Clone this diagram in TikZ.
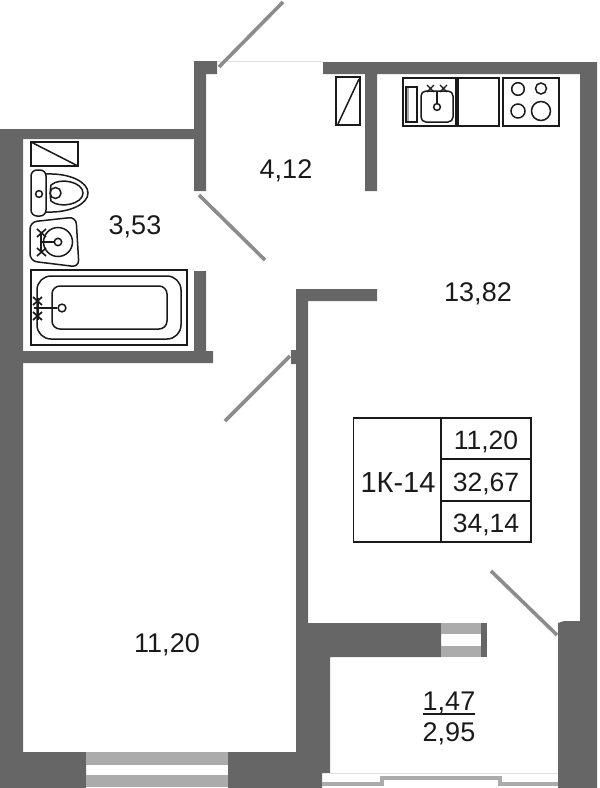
\documentclass[tikz,border=0pt]{standalone}
\usepackage{fontspec}
\setmainfont{Liberation Sans}
\definecolor{wallc}{HTML}{666666}
\definecolor{winc}{HTML}{ABABAB}
\definecolor{doorc}{HTML}{8C8C8C}
\definecolor{inkc}{HTML}{1A1A1A}
\tikzset{
  wall/.style={fill=wallc,draw=none},
  glass/.style={fill=winc,draw=none},
  door/.style={draw=doorc,line width=3.6pt},
  fixture/.style={draw=inkc,line width=1.5pt,fill=none},
  area/.style={font=\fontsize{27}{27}\selectfont,text=inkc,inner sep=0pt},
  tabletext/.style={font=\fontsize{26.5}{26.5}\selectfont,text=inkc,inner sep=0pt},
  tablecode/.style={font=\fontsize{29}{29}\selectfont,text=inkc,inner sep=0pt},
}
\begin{document}
\begin{tikzpicture}[x=1pt,y=-1pt]
\useasboundingbox (0,0) rectangle (600,788);
% walls
\fill[wall] (0,129) -- (194,129) -- (194,61) -- (217,61) -- (217,74) -- (206,74) -- (206,191) -- (194,191) -- (194,139) -- (23,139) -- (23,351) -- (194,351) -- (194,271) -- (206,271) -- (206,351) -- (213,351) -- (213,363) -- (23,363) -- (23,752) -- (86,752) -- (86,788) -- (0,788) -- cycle;
\fill[wall] (323,62) -- (597,62) -- (597,788) -- (558,788) -- (558,623) -- (564,621) -- (580,621) -- (580,74) -- (377,74) -- (377,191) -- (365,191) -- (365,74) -- (323,74) -- cycle;
\fill[wall] (296,289) -- (377,289) -- (377,301) -- (308,301) -- (308,623) -- (441,623) -- (441,657) -- (330,657) -- (330,773) -- (322,773) -- (322,788) -- (228,788) -- (228,752) -- (296,752) -- (296,364) -- (291,364) -- (291,350) -- (296,350) -- cycle;
\fill[wall] (481,623) rectangle (487,657);
% windows
\fill[glass] (86,752) rectangle (228,765);
\fill[glass] (86,775) rectangle (228,787);
\fill[glass] (441,623) rectangle (481,634);
\fill[glass] (441,646) rectangle (481,657);
\draw[draw=winc,line width=4.5pt] (322,784) -- (382,784) -- (382,778) -- (500,778) -- (500,784) -- (558,784);
\draw[draw=black!12,line width=1pt] (217,61.5) -- (323,61.5);
\draw[draw=black!12,line width=1pt] (329,773.5) -- (558,773.5);
% doors
\coordinate (d1a) at (219,67); \coordinate (d1b) at (283,2);
\coordinate (d2a) at (199,195); \coordinate (d2b) at (265,260);
\coordinate (d3a) at (290,356); \coordinate (d3b) at (225,421);
\coordinate (d4a) at (557,635); \coordinate (d4b) at (491,571);
\draw[door] (d1a) -- (d1b);
\draw[door] (d2a) -- (d2b);
\draw[door] (d3a) -- (d3b);
\draw[door] (d4a) -- (d4b);
% bathroom fixtures
\draw[fixture] (31,142) rectangle (78,166);
\draw[fixture] (31,142) -- (78,166);
% toilet
\draw[fixture,rounded corners=6pt] (31,170) rectangle (46,216);
\draw[fixture] (46,174) .. controls (70,173) and (88,182) .. (88,193) .. controls (88,204) and (70,213) .. (46,212);
\draw[fixture] (51,185) .. controls (60,177) and (83,182) .. (83,193) .. controls (83,204) and (60,209) .. (51,201) .. controls (50,196) and (50,190) .. (51,185);
\draw[fixture] (61,193) arc[start angle=0,end angle=360,radius=5.5];
\draw[fixture] (39,194) circle (3.4);
% basin
\draw[fixture,rounded corners=7pt] (30,222) -- (76,217) -- (79,267) -- (30,261) -- cycle;
\draw[fixture] (58,242) circle (14.5);
\draw[fixture] (58,242) circle (3.7);
\draw[inkc,line width=1.9pt] (41,242) -- (54,242) (41,233) -- (41,252);
\draw[inkc,line width=1.6pt] (37,229) -- (46,237) (37,237) -- (46,229) (37,248) -- (46,256) (37,256) -- (46,248);
% bath
\draw[fixture] (31,270) rectangle (187,345);
\draw[fixture,rounded corners=14pt] (37,276) rectangle (181,339);
\draw[fixture,rounded corners=8pt] (52,286) rectangle (167,329);
\draw[fixture] (62,308) circle (3.9);
\draw[inkc,line width=1.9pt] (34,308) -- (57,308) (38,298) -- (38,320);
\draw[inkc,line width=1.7pt] (33,297) -- (42,305) (33,305) -- (42,297) (33,312) -- (42,320) (33,320) -- (42,312);
% hall cupboard
\draw[fixture] (336,77) rectangle (360,125);
\draw[fixture] (338,124) -- (359,79);
% kitchen
\draw[fixture] (403,78) rectangle (456,126);
\draw[fixture,line width=1.2pt] (406,87) rectangle (417,122);
\draw[winc,line width=1.5pt] (408,88) -- (408,121);
\draw[fixture,rounded corners=5pt] (421,91) rectangle (453,122);
\draw[fixture] (437,107) circle (3.4);
\draw[inkc,line width=1.7pt] (437,91) -- (437,104);
\draw[inkc,line width=1.2pt] (427,85) -- (434,92) (427,92) -- (434,85) (440,85) -- (447,92) (440,92) -- (447,85);
\draw[fixture] (458,78) rectangle (499,126);
\draw[fixture] (503,78) rectangle (559,126);
\draw[fixture] (518,89) circle (6.3);
\draw[fixture] (541,88.5) circle (5.5);
\draw[fixture] (518,111) circle (7);
\draw[fixture] (541,111) circle (9.5);
% table
\draw[fixture,line width=1.3pt] (353.5,418) rectangle (531,542);
\draw[fixture,line width=1.3pt] (441,418) -- (441,542) (441,459) -- (531,459) (441,501) -- (531,501);
% texts
\node[area] (a1) at (286,171) {4,12};
\node[area] (a2) at (135,227) {3,53};
\node[area] (a3) at (478,294) {13,82};
\node[area] (a4) at (167,645) {11,20};
\node[area] (a5) at (449,703) {1,47};
\node[area] (a6) at (449,734) {2,95};
\draw[inkc,line width=1.5pt] (423,714) -- (475,714);
\node[tablecode] (t0) at (398,483) {1К-14};
\node[tabletext] (t1) at (486,442) {11,20};
\node[tabletext] (t2) at (486,484) {32,67};
\node[tabletext] (t3) at (486,525) {34,14};
\end{tikzpicture}
\end{document}
